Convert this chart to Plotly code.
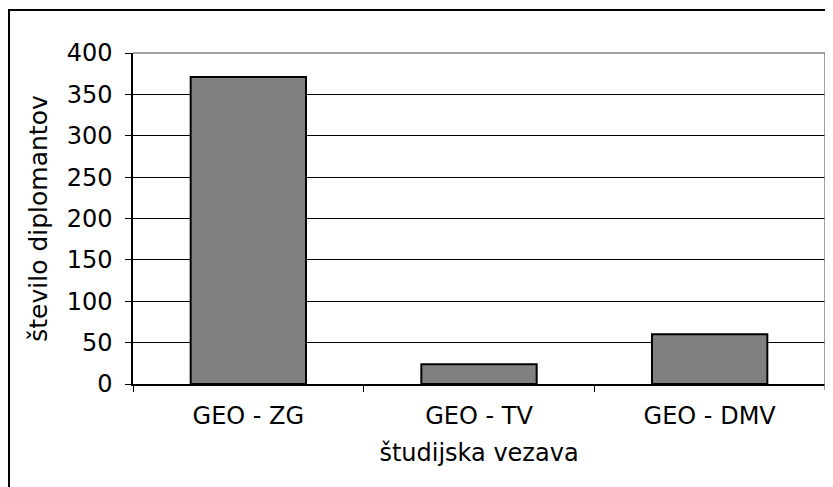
import plotly.graph_objects as go

categories = ["GEO - ZG", "GEO - TV", "GEO - DMV"]
values = [371, 24, 60]
y_ticks = [0, 50, 100, 150, 200, 250, 300, 350, 400]

# page body has an 8px margin; compensate so the picture lines up with the window
OFF = 8
W, H = 833 - OFF, 487 - OFF
L, R, T, B = 133 - OFF, 8, 53 - OFF, 103
pw, ph = W - L - R, H - T - B

def px_x(p):
    return (p - OFF - L) / pw

def px_y(p):
    return (H - B - (p - OFF)) / ph

font = dict(family="DejaVu Sans, Verdana, sans-serif", size=24, color="black")
title_font = dict(family="DejaVu Sans, Verdana, sans-serif", size=25, color="black")

fig = go.Figure(go.Bar(
    x=categories, y=values,
    marker=dict(color="#808080", line=dict(color="black", width=2)),
    width=0.5,
))

fig.update_layout(
    width=W, height=H,
    margin=dict(l=L, r=R, t=T, b=B),
    paper_bgcolor="white", plot_bgcolor="white",
    font=font,
    showlegend=False,
    xaxis=dict(
        showline=True, linecolor="black", linewidth=1.5,
        ticks="outside", tickson="boundaries", ticklen=6, tickcolor="black",
        tickfont=font, showgrid=False, ticklabelstandoff=9,
        title=dict(text="študijska vezava", font=font, standoff=16),
    ),
    yaxis=dict(
        range=[0, 400], tickvals=y_ticks,
        showline=True, linecolor="black", linewidth=1.5,
        ticks="outside", ticklen=6, tickcolor="black",
        tickfont=font, ticklabelstandoff=8,
        showgrid=True, gridcolor="black", gridwidth=1,
        zeroline=False,
        title=dict(text="število diplomantov", font=title_font, standoff=12),
    ),
    shapes=[
        dict(type="line", xref="paper", yref="paper", x0=0, x1=1, y0=1, y1=1,
             line=dict(color="#808080", width=1.5), layer="above"),
        dict(type="line", xref="paper", yref="paper", x0=1, x1=1, y0=px_y(390), y1=1,
             line=dict(color="#808080", width=1.5), layer="above"),
        dict(type="rect", xref="paper", yref="paper",
             x0=px_x(9), x1=px_x(845), y0=px_y(500), y1=px_y(10),
             line=dict(color="black", width=2), layer="below"),
    ],
)

fig.write_html("out.html")
